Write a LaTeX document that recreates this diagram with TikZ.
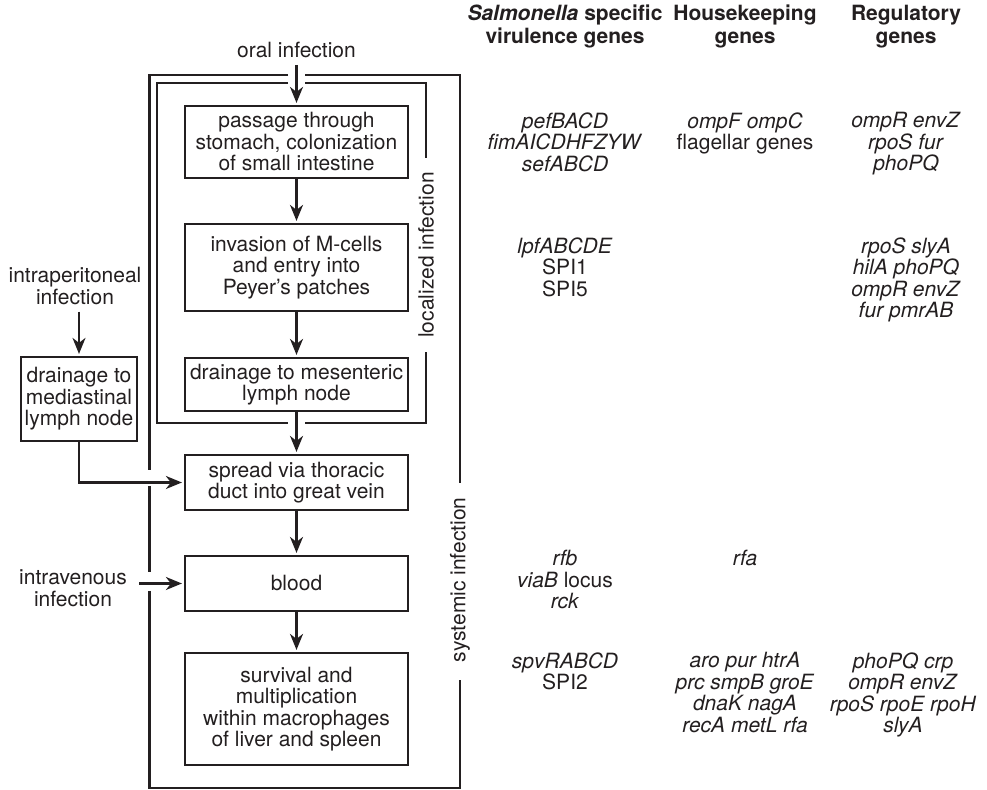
\documentclass[tikz,border=0pt]{standalone}
\usepackage{fontspec}
\setmainfont{TeX Gyre Heros}
\usetikzlibrary{arrows.meta}
\definecolor{ink}{HTML}{231F20}

\begin{document}
\begin{tikzpicture}[x=0.5pt, y=-0.5pt, color=ink,
        every node/.style={font=\fontsize{10.5}{10.75}\selectfont},
        box/.style={draw, line width=1.1pt, align=center, minimum width=111.5pt, inner sep=1pt},
        arr/.style={line width=1.1pt, shorten >=1pt, -{Stealth[length=8pt, width=6.5pt, inset=2.5pt]}},
        frame/.style={line width=1.1pt},
        gene/.style={anchor=north, align=center, inner sep=0pt},
        head/.style={align=center, font=\fontsize{10.5}{11.5}\selectfont\bfseries}]
        \useasboundingbox (0,0) rectangle (987,790);

        % Stages of infection
        \node[box, minimum height=36pt] (stomach) at (296.5,142) {passage through\\stomach, colonization\\of small intestine};
        \node[box, minimum height=43.5pt] (mcells) at (296.5,267.5) {invasion of M-cells\\and entry into\\Peyer's patches};
        \node[box, minimum height=26.5pt] (mesent) at (296.5,384.5) {drainage to mesenteric\\lymph node};
        \node[box, minimum height=27.5pt] (thoracic) at (296.5,482.5) {spread via thoracic\\duct into great vein};
        \node[box, minimum height=27.5pt] (blood) at (296.5,583.5) {blood};
        \node[box, minimum height=56pt] (macro) at (296.5,709) {survival and\\multiplication\\within macrophages\\of liver and spleen};
        \node[box, minimum width=58pt, minimum height=42pt] (mediast) at (79,399) {drainage to\\mediastinal\\lymph node};

        % Routes of infection
        \node (oral) at (296.5,50) {oral infection};
        \node[align=center] (ipinf) at (75,286) {intraperitoneal\\infection};
        \node[align=center] (ivinf) at (73,588) {intravenous\\infection};
        \coordinate (ivstart) at (139,583.5);

        % Localized infection frame
        \draw[frame] (288,83) -- (157,83) -- (157,423) -- (288,423);
        \draw[frame] (305,423) -- (426,423) -- (426,352);
        \draw[frame] (426,158) -- (426,83) -- (305,83);
        \node[rotate=90] (localized) at (426,255) {localized infection};

        % Systemic infection frame
        \draw[frame] (288,75) -- (149.5,75) -- (149.5,470);
        \draw[frame] (149.5,486) -- (149.5,572);
        \draw[frame] (149.5,591) -- (149.5,788) -- (460,788) -- (460,680);
        \draw[frame] (460,483) -- (460,75) -- (305,75);
        \node[rotate=90] (systemic) at (460,580) {systemic infection};

        % Arrows
        \foreach \a/\b in {oral/stomach, stomach/mcells, mcells/mesent, mesent/thoracic, thoracic/blood, blood/macro} {
            \draw[arr] (\a) -- (\b);
        }
        \draw[arr] (ipinf.south -| mediast.north) -- (mediast);
        \draw[arr] (mediast.south) |- (thoracic.west);
        \draw[arr] (ivstart) -- (blood.west);

        % Column headings
        \node[head] (virhead) at (565,26.5) {\textit{Salmonella} specific\\virulence genes};
        \node[head] (househead) at (745,26.5) {Housekeeping\\genes};
        \node[head] (reghead) at (906,26.5) {Regulatory\\genes};

        % Genes per stage
        \node[gene] (vir1) at (565,112) {\textit{pefBACD}\\\textit{fimAICDHFZYW}\\\textit{sefABCD}};
        \node[gene] (house1) at (745,112) {\textit{ompF ompC}\\flagellar genes};
        \node[gene] (reg1) at (906,112) {\textit{ompR envZ}\\\textit{rpoS fur}\\\textit{phoPQ}};
        \node[gene] (vir2) at (565,237) {\textit{lpfABCDE}\\SPI1\\SPI5};
        \node[gene] (reg2) at (906,237) {\textit{rpoS slyA}\\\textit{hilA phoPQ}\\\textit{ompR envZ}\\\textit{fur pmrAB}};
        \node[gene] (vir5) at (565,550) {\textit{rfb}\\\textit{viaB} locus\\\textit{rck}};
        \node[gene] (house5) at (745,550) {\textit{rfa}};
        \node[gene] (vir6) at (565,652) {\textit{spvRABCD}\\SPI2};
        \node[gene] (house6) at (745,652) {\textit{aro pur htrA}\\\textit{prc smpB groE}\\\textit{dnaK nagA}\\\textit{recA metL rfa}};
        \node[gene] (reg6) at (903,652) {\textit{phoPQ crp}\\\textit{ompR envZ}\\\textit{rpoS rpoE rpoH}\\\textit{slyA}};

    \end{tikzpicture}
\end{document}
